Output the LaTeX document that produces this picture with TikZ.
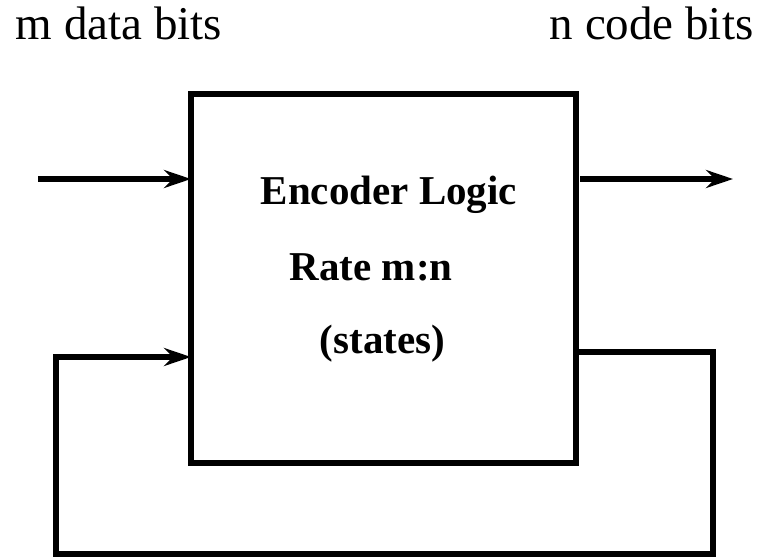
\documentclass[tikz,border=0pt]{standalone}
\usepackage{fontspec}
\setmainfont{Liberation Serif}
\usetikzlibrary{arrows.meta}
\begin{document}
\begin{tikzpicture}[x=1pt,y=-1pt,line width=5.5pt,
  tip/.style={-{Stealth[length=27pt,width=18pt,inset=9pt]}},
  plainlbl/.style={anchor=base west,inner sep=0pt,font=\fontsize{47}{56}\selectfont},
  boldlbl/.style={anchor=base west,inner sep=0pt,font=\fontsize{41}{48}\selectfont\bfseries},
  blockbox/.style={draw,minimum width=385pt,minimum height=369pt,anchor=north west,inner sep=0pt,outer sep=0pt}]
\useasboundingbox (0,0) rectangle (760,557);
\node[blockbox] (enc) at (191,94) {};
\node[plainlbl] (mlbl) at (13,39) {m data bits};
\node[plainlbl] (nlbl) at (547,39) {n code bits};
\node[boldlbl] (t1) at (258,204) {Encoder Logic};
\node[boldlbl] (t2) at (287,280) {Rate m:n};
\node[boldlbl] (t3) at (317,353) {(states)};
\coordinate (in) at (38,179);
\coordinate (out) at (733,179);
\coordinate (fbA) at (576,352);
\coordinate (fbB) at (713,352);
\coordinate (fbC) at (713,554);
\coordinate (fbD) at (56,554);
\coordinate (fbE) at (56,357);
\draw[tip] (in) -- (enc.west |- in);
\draw[tip] (enc.east |- out) ++(4,0) -- (out);
\draw[tip] (enc.east |- fbA) -- (fbB) -- (fbC) -- (fbD) -- (fbE) -- (enc.west |- fbE);
\end{tikzpicture}
\end{document}
